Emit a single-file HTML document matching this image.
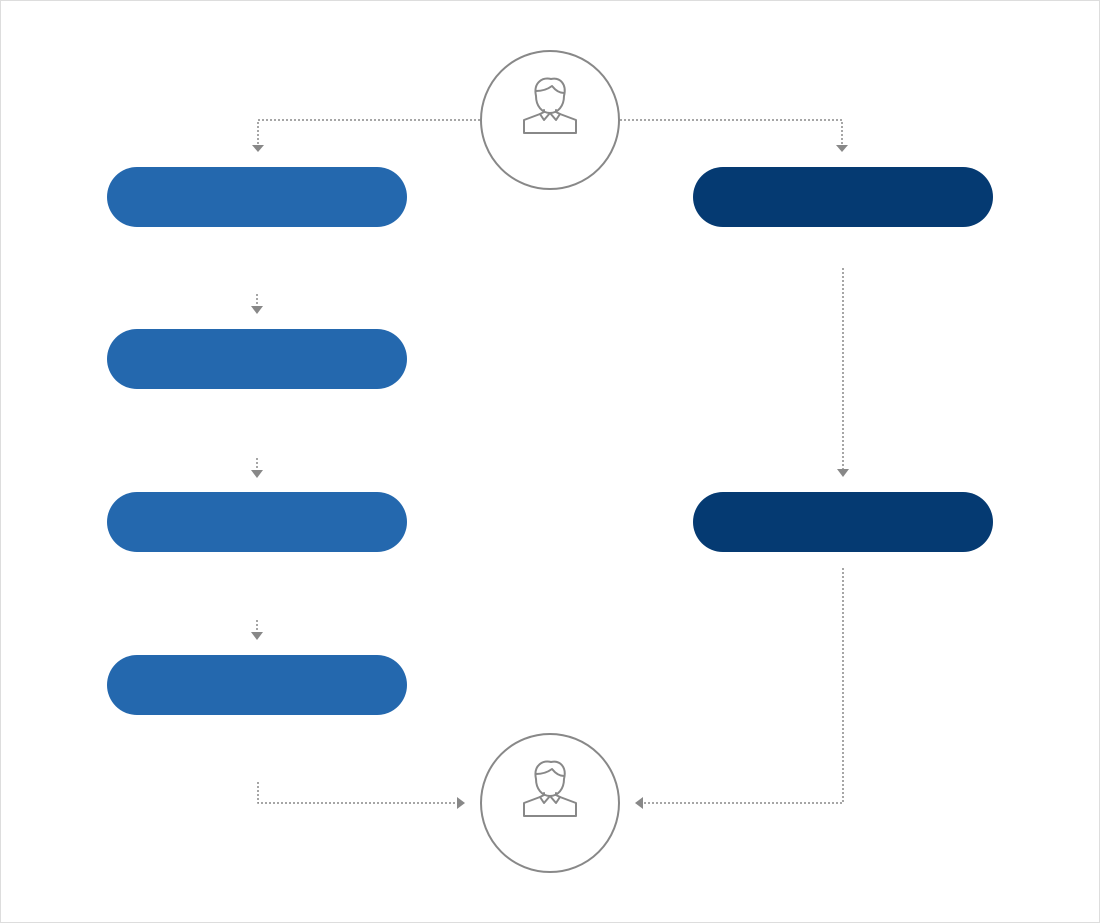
<!DOCTYPE html>
<html><head><meta charset="utf-8"><style>
html,body{margin:0;padding:0;background:#fff}
svg{display:block}
</style></head><body>
<svg width="1100" height="923" viewBox="0 0 1100 923" xmlns="http://www.w3.org/2000/svg">
<rect x="0.5" y="0.5" width="1099" height="922" fill="#fff" stroke="#ddd"/>
<defs>
<g id="person" fill="none" stroke="#888" stroke-width="2" stroke-linejoin="round" stroke-linecap="round">
  <path d="M-14,-14 C-17,-28 -7,-33 1,-31 C10,-33 17,-26 14,-14 C14,-4 8,3 0,3 C-8,3 -14,-4 -14,-14 Z"/>
  <path d="M-14,-19 C-8,-19 -2,-21 2,-24 C6,-19 10,-17 14,-17"/>
  <path d="M-6,0 L-6,2 M6,0 L6,2"/>
  <path d="M-6,2 L-10,4 L-26,10 L-26,23 L26,23 L26,10 L10,4 L6,2"/>
  <path d="M-10,4 L-6,10 L0,3 L6,10 L10,4"/>
</g>
</defs>
<g fill="#2468ae">
<rect x="107" y="167" width="300" height="60" rx="30"/>
<rect x="107" y="329" width="300" height="60" rx="30"/>
<rect x="107" y="492" width="300" height="60" rx="30"/>
<rect x="107" y="655" width="300" height="60" rx="30"/>
</g>
<g fill="#053a72">
<rect x="693" y="167" width="300" height="60" rx="30"/>
<rect x="693" y="492" width="300" height="60" rx="30"/>
</g>
<circle cx="550" cy="120" r="69" fill="#fff" stroke="#888" stroke-width="2"/>
<circle cx="550" cy="803" r="69" fill="#fff" stroke="#888" stroke-width="2"/>
<use href="#person" x="550" y="110"/>
<use href="#person" x="550" y="793"/>
<g fill="none" stroke="#888" stroke-width="1.5" stroke-dasharray="2,2">
<path d="M480,120 H258 V146"/>
<path d="M620,120 H842 V146"/>
<path d="M257,294 V306"/>
<path d="M257,458 V470"/>
<path d="M257,620 V633"/>
<path d="M843,268 V470"/>
<path d="M843,568 V803 H642"/>
<path d="M258,782 V803 H458"/>
</g>
<g fill="#888">
<path d="M252,145 H264 L258,152 Z"/>
<path d="M836,145 H848 L842,152 Z"/>
<path d="M251,306 H263 L257,314 Z"/>
<path d="M251,470 H263 L257,478 Z"/>
<path d="M251,632 H263 L257,640 Z"/>
<path d="M837,469 H849 L843,477 Z"/>
<path d="M643,797 V809 L635,803 Z"/>
<path d="M457,797 V809 L465,803 Z"/>
</g>
</svg>
</body></html>
